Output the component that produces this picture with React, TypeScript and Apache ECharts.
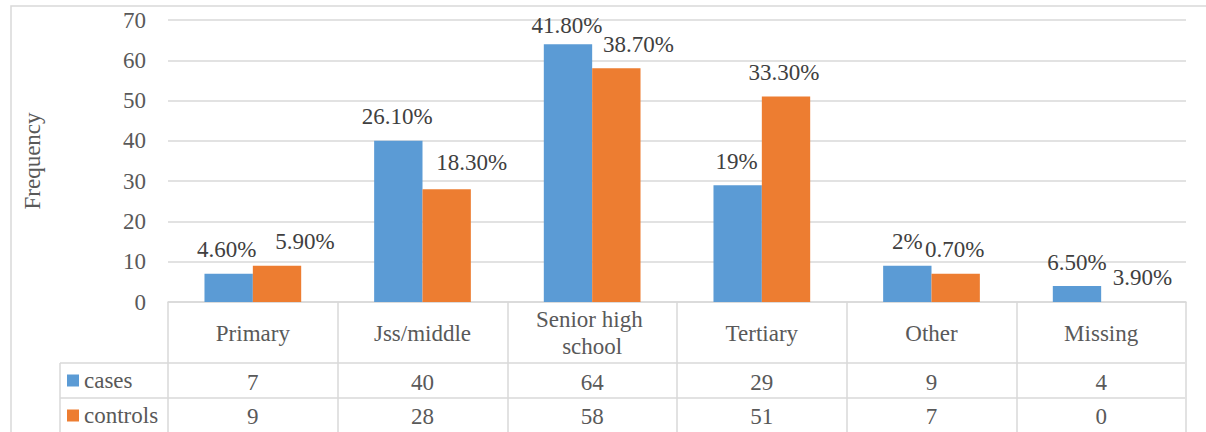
import React, { useEffect, useRef } from "react";
import * as echarts from "echarts";

const categories = ["Primary", "Jss/middle", "Senior high school", "Tertiary", "Other", "Missing"];
const cases = [7, 40, 64, 29, 9, 4];
const controls = [9, 28, 58, 51, 7, 0];
const casesPct = ["4.60%", "26.10%", "41.80%", "19%", "2%", "6.50%"];
const controlsPct = ["5.90%", "18.30%", "38.70%", "33.30%", "0.70%", "3.90%"];
const seriesNames = ["cases", "controls"];

// label nudges (pixels) to mimic the hand-placed labels
const casesLabelOffset = [[-2, 0], [-1, 0], [-1, 5], [-1, 0], [0, 0], [0, 1]];
const controlsLabelOffset = [[28, 0], [25, -3], [22, 0], [-2, 0], [-1, 0], [17, -1]];

const FONT = "Liberation Serif";
const GRID_COLOR = "#D9D9D9";
const TEXT = "#595959";
const LABEL = "#404040";

export default function App() {
  const ref = useRef<HTMLDivElement>(null);

  useEffect(() => {
    if (!ref.current) return;
    const chart = echarts.init(ref.current, undefined, { renderer: "svg" });
    const gridLeft = 168;
    const gridRight = 20;
    const gridTop = 20;
    const gridBottom = 130;
    const W = 1206;
    const axisY = 432 - gridBottom;

    const mkData = (vals: number[], offs: number[][]) =>
      vals.map((v, i) => ({ value: v, label: { offset: offs[i] } }));

    const rowAxis = (vals: number[], margin: number) => ({
      type: "category",
      position: "bottom",
      data: vals.map(String),
      axisLine: { show: false, onZero: false },
      axisTick: { show: false },
      splitLine: { show: false },
      axisLabel: {
        interval: 0,
        margin,
        verticalAlign: "middle",
        color: TEXT,
        fontFamily: FONT,
        fontSize: 23,
        lineHeight: 24,
        width: 150,
        overflow: "break",
      },
    });

    chart.setOption({
      animation: false,
      backgroundColor: "#ffffff",
      textStyle: { fontFamily: FONT, fontSize: 23 },
      grid: { left: gridLeft, right: gridRight, top: gridTop, bottom: gridBottom, containLabel: false },
      legend: {
        orient: "vertical",
        left: 67,
        top: 368.5,
        padding: 0,
        itemGap: 11,
        itemWidth: 12,
        itemHeight: 12,
        icon: "rect",
        data: seriesNames,
        textStyle: { color: TEXT, fontFamily: FONT, fontSize: 23, lineHeight: 24, width: 90, overflow: "break" },
        selectedMode: false,
      },
      xAxis: [
        {
          type: "category",
          position: "bottom",
          data: categories,
          axisLine: { show: true, lineStyle: { color: GRID_COLOR, width: 1.5 } },
          axisTick: {
            show: true,
            interval: 0,
            alignWithLabel: false,
            inside: false,
            length: 140,
            lineStyle: { color: GRID_COLOR, width: 1.5 },
          },
          axisLabel: {
            interval: 0,
            margin: 31,
            verticalAlign: "middle",
            color: TEXT,
            fontFamily: FONT,
            fontSize: 23,
            lineHeight: 27,
            width: 150,
            overflow: "break",
          },
        },
        rowAxis(cases, 80),
        rowAxis(controls, 114),
      ],
      yAxis: {
        type: "value",
        min: 0,
        max: 70,
        interval: 10,
        name: "Frequency",
        nameLocation: "middle",
        nameGap: 124,
        nameTextStyle: { color: TEXT, fontFamily: FONT, fontSize: 23, lineHeight: 24, width: 200, overflow: "break" },
        axisLine: { show: false },
        axisTick: { show: false },
        axisLabel: { color: TEXT, fontFamily: FONT, fontSize: 23, margin: 22, width: 60, overflow: "break" },
        splitLine: { lineStyle: { color: GRID_COLOR, width: 1.5 } },
      },
      series: [
        {
          name: seriesNames[0],
          type: "bar",
          xAxisIndex: 0,
          barGap: "0%",
          barCategoryGap: "43%",
          itemStyle: { color: "#5B9BD5" },
          data: mkData(cases, casesLabelOffset),
          label: {
            show: true,
            position: "top",
            distance: 12,
            color: LABEL,
            fontFamily: FONT,
            fontSize: 23,
            lineHeight: 24,
            width: 120,
            overflow: "break",
            formatter: (p: any) => casesPct[p.dataIndex],
          },
        },
        {
          name: seriesNames[1],
          type: "bar",
          xAxisIndex: 0,
          barGap: "0%",
          barCategoryGap: "43%",
          itemStyle: { color: "#ED7D31" },
          data: mkData(controls, controlsLabelOffset),
          label: {
            show: true,
            position: "top",
            distance: 12,
            color: LABEL,
            fontFamily: FONT,
            fontSize: 23,
            lineHeight: 24,
            width: 120,
            overflow: "break",
            formatter: (p: any) => controlsPct[p.dataIndex],
          },
        },
      ],
      graphic: [
        {
          type: "rect",
          silent: true,
          shape: { x: 11, y: 6, width: 1220, height: 460 },
          style: { fill: "none", stroke: GRID_COLOR, lineWidth: 1.5 },
        },
        {
          type: "line",
          silent: true,
          shape: { x1: 60, y1: axisY + 61, x2: W - gridRight - 1, y2: axisY + 61 },
          style: { stroke: GRID_COLOR, lineWidth: 1.5 },
        },
        {
          type: "line",
          silent: true,
          shape: { x1: 60, y1: axisY + 96, x2: W - gridRight - 1, y2: axisY + 96 },
          style: { stroke: GRID_COLOR, lineWidth: 1.5 },
        },
        {
          type: "line",
          silent: true,
          shape: { x1: 60, y1: axisY + 61, x2: 60, y2: 440 },
          style: { stroke: GRID_COLOR, lineWidth: 1.5 },
        },
      ],
    });
    return () => chart.dispose();
  }, []);

  return (
    <div
      ref={ref}
      style={{ position: "fixed", left: 0, top: 0, width: 1206, height: 432, background: "#fff" }}
    />
  );
}
